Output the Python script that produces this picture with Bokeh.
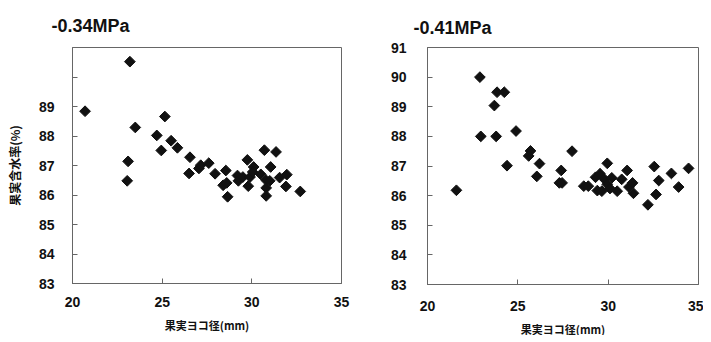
import numpy as np
from bokeh.plotting import figure
from bokeh.layouts import row
from bokeh.models import FixedTicker
from bokeh.embed import file_html
from bokeh.resources import INLINE

# Panel 1: -0.34MPa
x1 = [20.7, 23.2, 23.5, 23.1, 23.05, 25.15, 24.7, 24.95, 25.5, 25.85, 26.55, 26.5,
      27.05, 27.15, 27.6, 27.95, 28.55, 28.4, 28.6, 28.65, 29.2, 29.25, 29.5, 29.75,
      29.8, 29.9, 30.1, 30.05, 30.7, 30.5, 30.8, 30.8, 30.8, 31.05, 31.0, 31.35,
      31.55, 31.95, 31.9, 32.7]
y1 = [88.84, 90.52, 88.29, 87.14, 86.48, 88.66, 88.02, 87.51, 87.84, 87.6, 87.28, 86.73,
      86.9, 87.01, 87.08, 86.72, 86.83, 86.33, 86.41, 85.94, 86.66, 86.48, 86.61, 87.19,
      86.3, 86.61, 86.95, 86.78, 87.52, 86.7, 86.5, 86.24, 85.97, 86.95, 86.48, 87.46,
      86.59, 86.69, 86.29, 86.12]

# Panel 2: -0.41MPa
x2 = [21.6, 22.9, 22.95, 23.7, 23.85, 24.25, 23.8, 24.4, 24.9, 25.7, 25.6, 26.2,
      26.05, 27.4, 27.3, 27.45, 28.0, 28.65, 28.9, 29.3, 29.4, 29.55, 29.65, 29.8,
      29.95, 29.95, 30.1, 30.2, 30.5, 30.75, 31.05, 31.15, 31.35, 31.4, 32.2, 32.55,
      32.65, 32.8, 33.5, 33.9, 34.45]
y2 = [86.18, 90.0, 88.0, 89.04, 89.49, 89.49, 88.0, 87.01, 88.18, 87.51, 87.34, 87.08,
      86.65, 86.85, 86.43, 86.43, 87.5, 86.32, 86.32, 86.62, 86.17, 86.74, 86.15, 86.55,
      87.09, 86.38, 86.24, 86.6, 86.15, 86.55, 86.85, 86.29, 86.43, 86.08, 85.69, 86.98,
      86.04, 86.51, 86.75, 86.29, 86.92]

titles = ["-0.34MPa", "-0.41MPa"]
x_ticks = [20, 25, 30, 35]
y_ticks = [83, 84, 85, 86, 87, 88, 89, 90, 91]
x_label = "果実ヨコ径(mm)"
y_label = "果実含水率(%)"

LAT = "Liberation Sans"
CJK = "Noto Sans CJK JP"
FRAME = "#666666"


def make(xs, ys, title, fw, fh, left, top, bottom, right, title_offset, title_standoff,
         xstand, ystand, show_ylabel, hide_top_labels):
    p = figure(frame_width=fw, frame_height=fh, x_range=(20, 35), y_range=(83, 91),
               output_backend="svg", toolbar_location=None,
               min_border_left=left, min_border_right=right,
               min_border_top=top, min_border_bottom=bottom)
    p.title.text = title
    p.title.text_font = LAT
    p.title.text_font_size = "18px"
    p.title.text_font_style = "bold"
    p.title.text_color = "#111111"
    p.title.align = "left"
    p.title.offset = title_offset
    p.title.standoff = title_standoff
    p.xgrid.visible = False
    p.ygrid.visible = False
    p.outline_line_color = FRAME
    p.outline_line_width = 1
    p.background_fill_color = "white"
    p.border_fill_color = "white"

    for ax in (p.xaxis[0], p.yaxis[0]):
        ax.axis_line_color = FRAME
        ax.major_tick_line_color = FRAME
        ax.major_tick_in = 5
        ax.major_tick_out = 0
        ax.minor_tick_line_color = None
        ax.major_label_text_font = LAT
        ax.major_label_text_font_size = "14px"
        ax.major_label_text_font_style = "bold"
        ax.major_label_text_color = "#111111"
        ax.axis_label_text_font = CJK
        ax.axis_label_text_font_style = "bold"
        ax.axis_label_text_color = "#111111"

    p.xaxis.ticker = FixedTicker(ticks=x_ticks)
    p.yaxis.ticker = FixedTicker(ticks=y_ticks)
    p.xaxis.major_label_standoff = xstand
    p.yaxis.major_label_standoff = ystand
    p.xaxis.axis_label = x_label
    p.xaxis.axis_label_text_font_size = "11px"
    p.xaxis.axis_label_standoff = 7
    if show_ylabel:
        p.yaxis.axis_label = y_label
        p.yaxis.axis_label_text_font_size = "12px"
        p.yaxis.axis_label_standoff = 13
    if hide_top_labels:
        p.yaxis.major_label_overrides = {90: "", 91: ""}

    p.scatter(xs, ys, marker="square", angle=np.pi / 4, size=7.6,
              fill_color="#111111", line_color="#111111")
    return p


p1 = make(x1, y1, titles[0], 269, 236, 72, 47, 49, 22, -21, 23, 13, 18, True, True)
p2 = make(x2, y2, titles[1], 271, 237, 64, 43, 52, 5, -14, 20, 16, 21, False, False)

layout = row(p1, p2)
open("out.html", "w").write(file_html(layout, INLINE))
